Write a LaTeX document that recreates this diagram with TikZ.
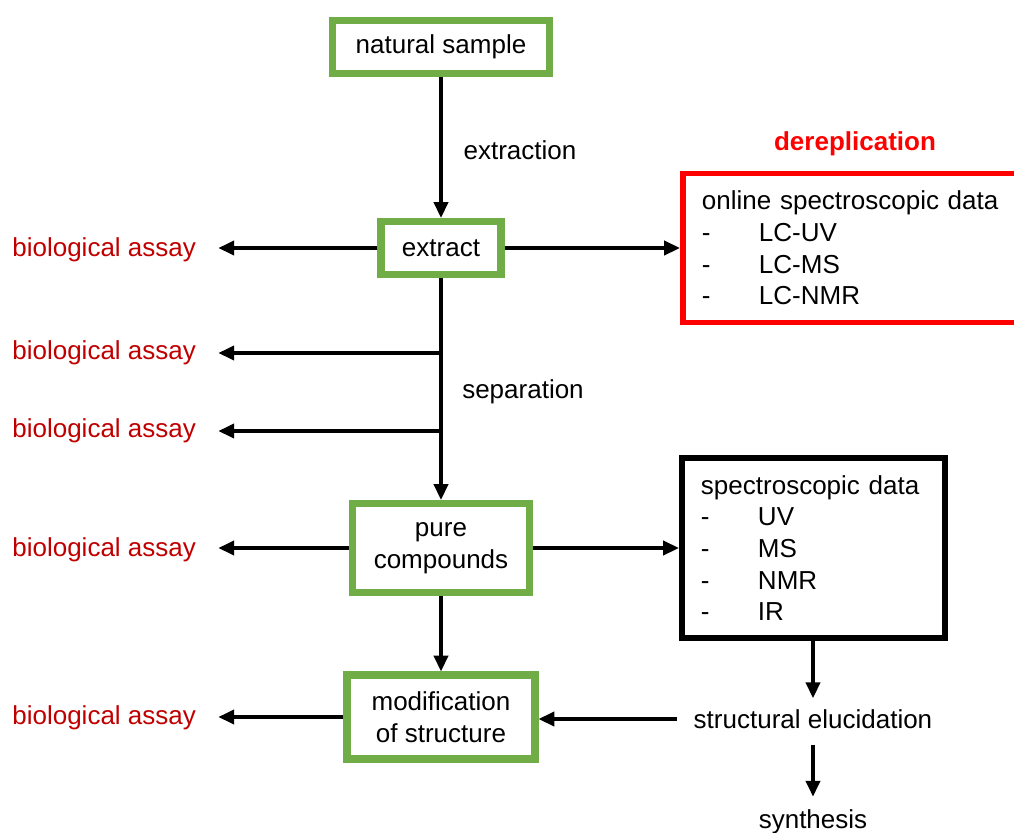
\documentclass[tikz,border=0pt]{standalone}
\usepackage{fontspec}
\setmainfont{Liberation Sans}
\usetikzlibrary{arrows.meta,positioning,calc}
\definecolor{stagecol}{HTML}{70AD47}
\definecolor{assaycol}{HTML}{C00000}
\definecolor{derepcol}{HTML}{FF0000}
\newcommand{\litem}[1]{\makebox[1.14cm][l]{-}#1}

\begin{document}
\begin{tikzpicture}[x=0.2mm,y=-0.2mm,font=\fontsize{14.8}{18}\selectfont,
  >={Triangle[length=9pt,width=8pt]},
  flow/.style={->,line width=2pt},
  stage/.style={draw=stagecol,line width=4pt,align=center,inner sep=0pt},
  assay/.style={text=assaycol,anchor=west,inner sep=0pt},
  databox/.style={draw,line width=3.4pt,align=left,inner xsep=0.38cm,anchor=west}]
\useasboundingbox (0,0) rectangle (1014,832);
\node[stage,minimum width=4.34cm,minimum height=1.06cm] (sample) at (441,47) {natural sample};
\node[stage,minimum width=2.4cm,minimum height=1.06cm] (extract) at (441,248) {extract};
\node[stage,minimum width=3.54cm,minimum height=1.78cm] (pure) at (441,548) {pure\\compounds};
\node[stage,minimum width=3.76cm,minimum height=1.68cm] (modif) at (441,717) {modification\\of structure};
\node (extraction) at (520,150) {extraction};
\node (separation) at (523,392) {separation};
% assays on the left
\node[assay] (assay1) at (12,250) {biological assay};
\node[assay] (assay2) at (12,353) {biological assay};
\node[assay] (assay3) at (12,431) {biological assay};
\node[assay] (assay4) at (12,550) {biological assay};
\node[assay] (assay5) at (12,718) {biological assay};
% data on the right
\node[text=derepcol,font=\fontsize{14.8}{18}\selectfont\bfseries] (derep) at (855,144) {dereplication};
\node[databox,draw=derepcol,minimum height=2.98cm,text width=6.18cm] (online) at (680,248)
  {online spectroscopic data\\\litem{LC-UV}\\\litem{LC-MS}\\\litem{LC-NMR}};
\node[databox,minimum height=3.6cm,text width=4.5cm] (spectro) at (679,548)
  {spectroscopic data\\\litem{UV}\\\litem{MS}\\\litem{NMR}\\\litem{IR}};
\node (struct) at (813,719) {structural elucidation};
\node (synth) at (813,822) {synthesis};
\draw[flow] (sample) -- (extract);
\draw[flow] (extract) -- (pure);
\draw[flow] (pure) -- (modif);
\draw[flow] (extract.east) -- (extract.east -| online.west);
\draw[flow] (pure.east) -- (pure.east -| spectro.west);
\draw[flow,shorten >=0.44cm] (extract.west) -- (extract.west -| assay1.east);
\draw[flow,shorten >=0.44cm] (extract.south |- assay2) -- (assay2.east);
\draw[flow,shorten >=0.44cm] (extract.south |- assay3) -- (assay3.east);
\draw[flow,shorten >=0.44cm] (pure.west) -- (pure.west -| assay4.east);
\draw[flow,shorten >=0.44cm] (modif.west) -- (modif.west -| assay5.east);
\draw[flow,shorten >=0.1cm] (spectro.south -| struct.north) -- (struct.north);
\draw[flow,shorten <=0.22cm] (struct.west) -- (struct.west -| modif.east);
\draw[flow,shorten <=0.2cm,shorten >=0.14cm] (struct.south) -- (synth.north);
\end{tikzpicture}
\end{document}
